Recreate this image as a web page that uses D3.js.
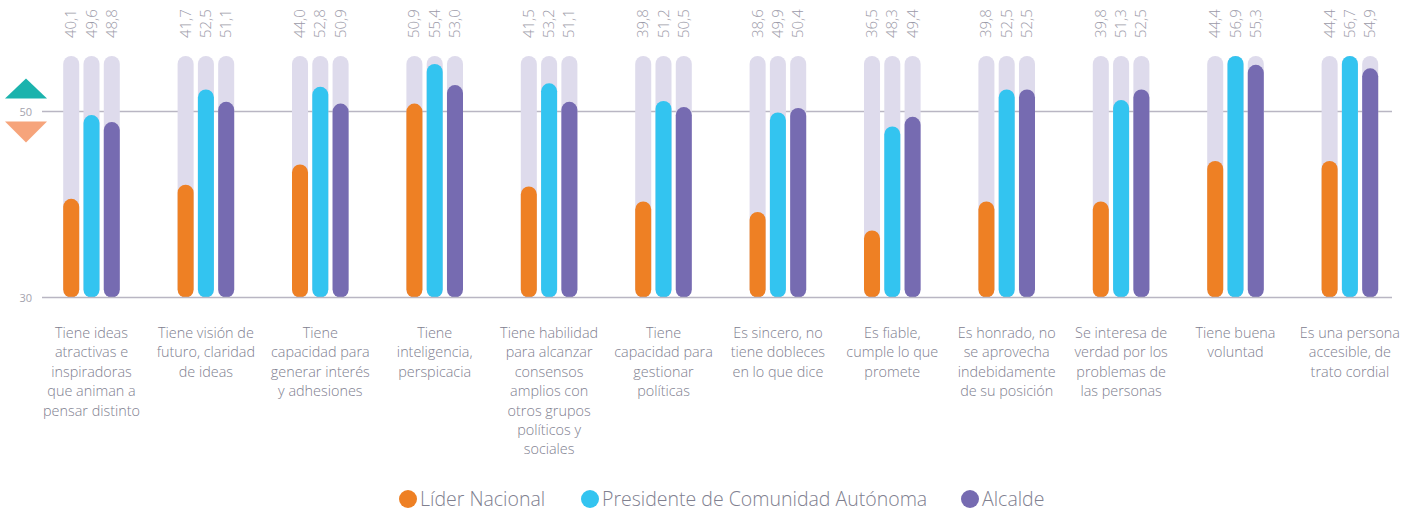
<!DOCTYPE html>
<html>
<head>
<meta charset="utf-8">
<script src="https://cdn.jsdelivr.net/npm/d3@7"></script>
<style>
  body { margin: 0; background: #fff; }
  svg { display: block; font-family: "Open Sans", sans-serif; }
</style>
</head>
<body>
<svg id="chart"></svg>
<script>
// Data
const categories = [
  ["Tiene ideas", "atractivas e", "inspiradoras", "que animan a", "pensar distinto"],
  ["Tiene visión de", "futuro, claridad", "de ideas"],
  ["Tiene", "capacidad para", "generar interés", "y adhesiones"],
  ["Tiene", "inteligencia,", "perspicacia"],
  ["Tiene habilidad", "para alcanzar", "consensos", "amplios con", "otros grupos", "políticos y", "sociales"],
  ["Tiene", "capacidad para", "gestionar", "políticas"],
  ["Es sincero, no", "tiene dobleces", "en lo que dice"],
  ["Es fiable,", "cumple lo que", "promete"],
  ["Es honrado, no", "se aprovecha", "indebidamente", "de su posición"],
  ["Se interesa de", "verdad por los", "problemas de", "las personas"],
  ["Tiene buena", "voluntad"],
  ["Es una persona", "accesible, de", "trato cordial"]
];
const series = ["Líder Nacional", "Presidente de Comunidad Autónoma", "Alcalde"];
const liderNacional = [40.1, 41.7, 44.0, 50.9, 41.5, 39.8, 38.6, 36.5, 39.8, 39.8, 44.4, 44.4];
const presidenteCA  = [49.6, 52.5, 52.8, 55.4, 53.2, 51.2, 49.9, 48.3, 52.5, 51.3, 56.9, 56.7];
const alcalde       = [48.8, 51.1, 50.9, 53.0, 51.1, 50.5, 50.4, 49.4, 52.5, 52.5, 55.3, 54.9];
const yTicks = [30, 50];
const yMax = 56.3; // top of background track

const colors = ["#ee8024", "#33c4f0", "#766bb1"];
const values = [liderNacional, presidenteCA, alcalde];
const fmt = v => d3.format(".1f")(v).replace(".", ",");

const W = 1416, H = 511;
const svg = d3.select("#chart").attr("width", W).attr("height", H);

const keys = categories.map((c, i) => i);
const x0 = d3.scaleBand().domain(keys).range([34.3, 34.3 + 12 * 114.4]);
const x1 = d3.scaleBand().domain(d3.range(3)).range([-28.3, 28.3]).paddingInner(0.21);
const y = d3.scaleLinear().domain([30, yMax]).range([287.8, 56]).clamp(true);
const capR = x1.bandwidth() / 2;
const base = y(30) + 9.7; // bars extend below 30 by their rounded cap

// Gridline at 50
svg.append("line")
  .attr("x1", 42).attr("x2", 1392)
  .attr("y1", y(50)).attr("y2", y(50))
  .attr("stroke", "#b9b6c3").attr("stroke-width", 1.6);

// Groups
const g = svg.selectAll("g.grp")
  .data(keys)
  .enter().append("g")
  .attr("class", "grp")
  .attr("transform", d => `translate(${x0(d) + x0.bandwidth() / 2},0)`);

// Background tracks
g.selectAll("rect.bg")
  .data(d3.range(3))
  .enter().append("rect")
  .attr("x", s => x1(s))
  .attr("width", x1.bandwidth())
  .attr("y", y(yMax))
  .attr("height", base - y(yMax))
  .attr("rx", capR).attr("ry", capR)
  .attr("fill", "#dedbec");

// Value bars
g.selectAll("rect.val")
  .data(i => values.map((arr, s) => ({ s, v: arr[i] })))
  .enter().append("rect")
  .attr("x", d => x1(d.s))
  .attr("width", x1.bandwidth())
  .attr("y", d => y(d.v))
  .attr("height", d => base - y(d.v))
  .attr("rx", capR).attr("ry", capR)
  .attr("fill", d => colors[d.s]);

// Value labels (rotated)
g.selectAll("text.lbl")
  .data(i => values.map((arr, s) => ({ s, v: arr[i] })))
  .enter().append("text")
  .attr("transform", d => `translate(${x1(d.s) + x1.bandwidth() / 2 + 5},38) rotate(-90)`)
  .attr("font-size", 15)
  .attr("font-weight", 300)
  .attr("fill", "#9b9aa8")
  .text(d => fmt(d.v));

// Baseline
svg.append("line")
  .attr("x1", 42).attr("x2", 1392)
  .attr("y1", base).attr("y2", base)
  .attr("stroke", "#b9b6c3").attr("stroke-width", 1.6);

// Y tick labels
svg.selectAll("text.tick")
  .data(yTicks)
  .enter().append("text")
  .attr("x", 32)
  .attr("y", d => (d === 30 ? base : y(d)) + 4)
  .attr("text-anchor", "end")
  .attr("font-size", 11)
  .attr("fill", "#a4a3ae")
  .text(d => d);

// Up / down triangles
svg.append("path")
  .attr("d", `M5,${y(50) - 13} L26,${y(50) - 33} L47,${y(50) - 13} Z`)
  .attr("fill", "#1bb3ad");
svg.append("path")
  .attr("d", `M5,${y(50) + 10} L26,${y(50) + 31} L47,${y(50) + 10} Z`)
  .attr("fill", "#f6a47b");

// Category labels
g.append("text")
  .attr("text-anchor", "middle")
  .attr("font-size", 14.4)
  .attr("font-weight", 300)
  .attr("fill", "#80808f")
  .selectAll("tspan")
  .data(i => categories[i])
  .enter().append("tspan")
  .attr("x", 0)
  .attr("y", (d, j) => 338 + j * 19.4)
  .text(d => d);

// Legend
const legendX = [408, 590, 970];
const lg = svg.selectAll("g.leg")
  .data(series)
  .enter().append("g")
  .attr("transform", (d, i) => `translate(${legendX[i]},499)`);
lg.append("circle").attr("r", 9).attr("fill", (d, i) => colors[i]);
lg.append("text")
  .attr("x", 12).attr("y", 7)
  .attr("font-size", 19.5)
  .attr("font-weight", 300)
  .attr("fill", "#80808f")
  .text(d => d);
</script>
</body>
</html>
